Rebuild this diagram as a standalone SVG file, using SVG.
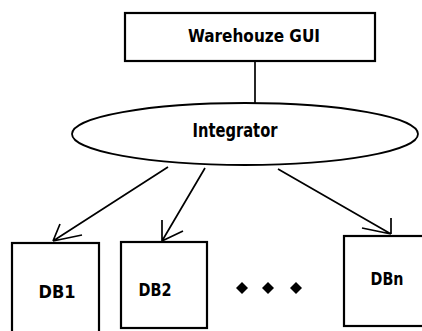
<svg xmlns="http://www.w3.org/2000/svg" width="422" height="331" viewBox="0 0 422 331">
<style>
.box{fill:#fff;stroke:#000;stroke-width:2.2}
.ell{fill:#fff;stroke:#000;stroke-width:1.8}
.lbl{font-family:"DejaVu Sans Condensed","Liberation Sans",sans-serif;font-weight:bold;font-size:18px;fill:#000}
.conn{fill:none;stroke:#000;stroke-width:1.7}
.dot{fill:#000}
</style>
<rect width="422" height="331" fill="#fff"/>
<g id="connectors">
<line class="conn" x1="255" y1="61" x2="255" y2="103"/>
<path class="conn" d="M168,167 L53,241 M53,241 L60,224 M53,241 L82,235"/>
<path class="conn" d="M205,168 L162,241 M162,241 L162,220 M162,241 L183,231"/>
<path class="conn" d="M278,169 L391,234 M391,234 L391,218 M391,234 L362,228"/>
</g>
<g id="warehouse-gui">
<rect class="box" x="125" y="13" width="250" height="48"/>
<text class="lbl" x="254" y="42" text-anchor="middle" textLength="132" lengthAdjust="spacingAndGlyphs">Warehouze GUI</text>
</g>
<g id="integrator">
<ellipse class="ell" cx="245" cy="134" rx="173" ry="31"/>
<text class="lbl" x="235" y="137" text-anchor="middle" textLength="85" lengthAdjust="spacingAndGlyphs" style="font-size:19px">Integrator</text>
</g>
<g id="db1">
<rect class="box" x="12" y="243" width="87" height="95"/>
<text class="lbl" x="57" y="298" text-anchor="middle" textLength="37" lengthAdjust="spacingAndGlyphs">DB1</text>
</g>
<g id="db2">
<rect class="box" x="121" y="242" width="86" height="86"/>
<text class="lbl" x="155" y="296" text-anchor="middle" textLength="33" lengthAdjust="spacingAndGlyphs">DB2</text>
</g>
<g id="dots">
<path class="dot" d="M242,282 L248,288 L242,294 L236,288 Z"/>
<path class="dot" d="M268,282 L274,288 L268,294 L262,288 Z"/>
<path class="dot" d="M296,282 L302,288 L296,294 L290,288 Z"/>
</g>
<g id="dbn">
<rect class="box" x="344" y="236" width="85" height="90"/>
<text class="lbl" x="387" y="285" text-anchor="middle" textLength="33" lengthAdjust="spacingAndGlyphs">DBn</text>
</g>
</svg>
